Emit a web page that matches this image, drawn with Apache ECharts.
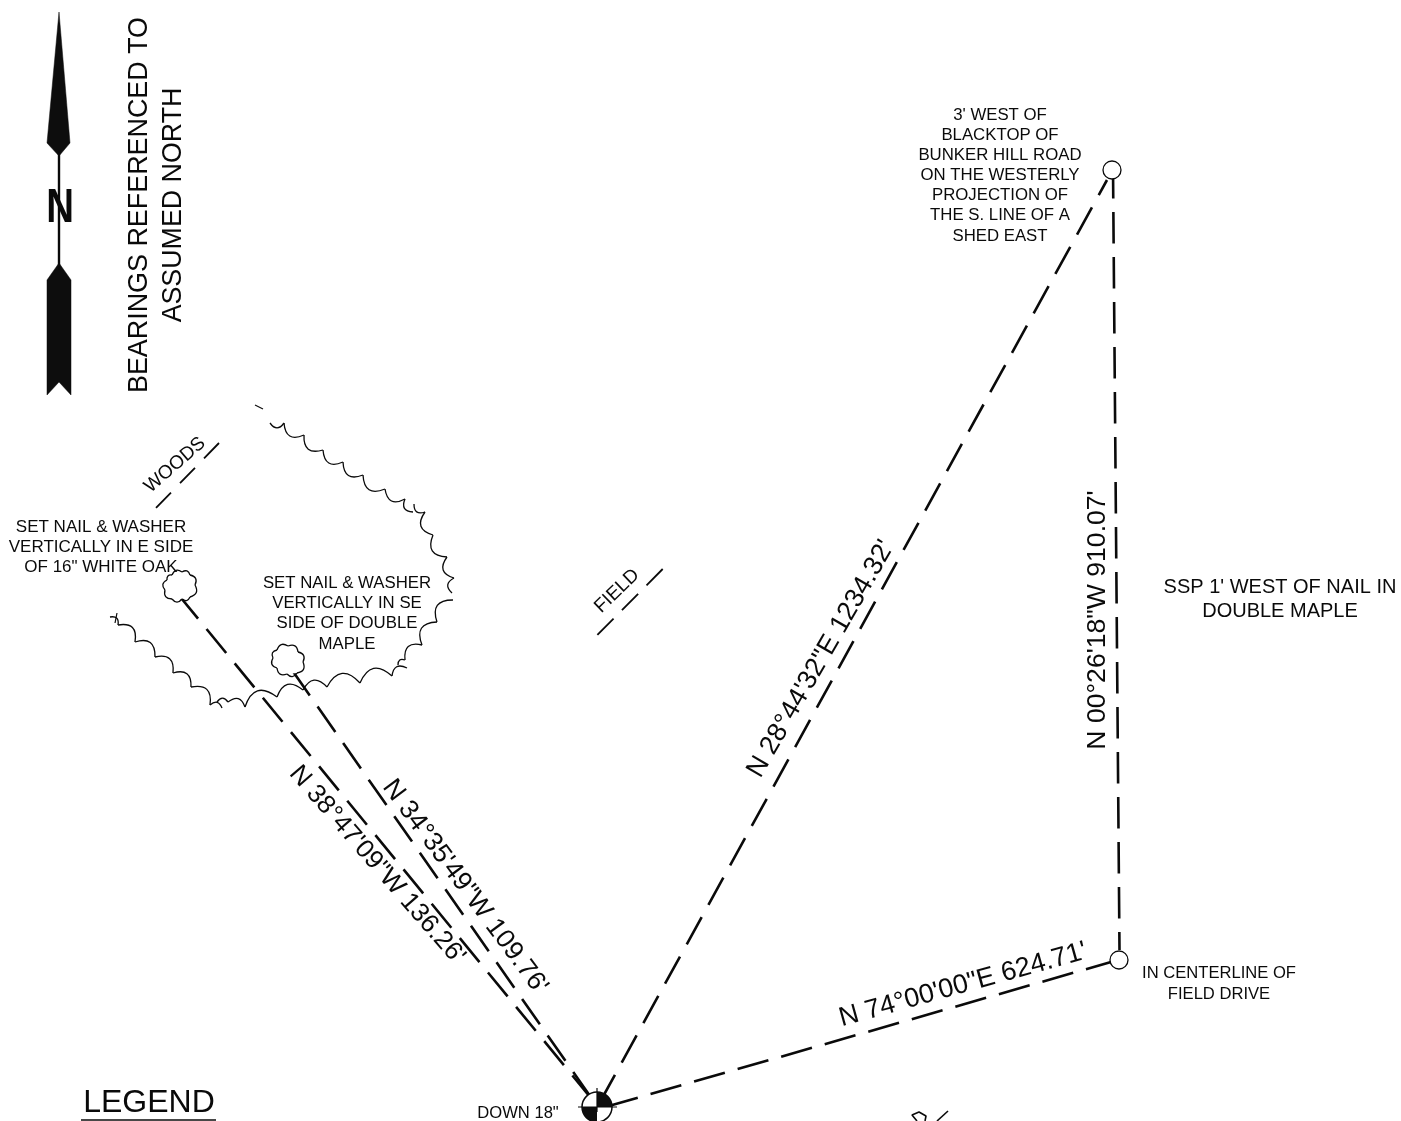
<!DOCTYPE html>
<html>
<head>
<meta charset="utf-8">
<style>html,body{margin:0;padding:0;background:#fff}#c{width:1401px;height:1121px}</style>
<script src="https://cdn.jsdelivr.net/npm/echarts@6/dist/echarts.min.js"></script>
</head>
<body>
<div id="c"></div>
<script>
// Traverse courses (start, end) in drawing units
const courseNE = [[600,1102],[1107,180]];
const courseN = [[1113,167],[1119.5,950]];
const courseE = [[607,1106.6],[1111,962]];
const courseOak = [[178.4,594.7],[590,1097]];
const courseMaple = [[292,670],[590,1096]];
const fieldHatch = [[662.7,569],[597.3,635]];
const woodsHatch = [[219,443],[156,508]];
const legendRule = [[81,1120],[216,1120]];
const needleShaft = [[59,150],[59,270]];
const crossH = [[578,1107],[617,1107]];
const crossV = [[597,1088],[597,1112]];
const fragA = [[948,1111],[937,1121]];
const fragB = [[925,1121],[926,1116],[919,1112],[912,1115],[917,1121]];
const woodsTick = [[117,613],[115,623]];
const woodsStub = [[255,405],[263,409]];

// Tree line cusps
const woodsNorth = [[270,423],[284,423],[304,435],[323,450],[343,462],[363,475],[385,489],[405,499],[413,512]];
const woodsEast = [[414,504],[425,512],[433,535],[447,557],[454,578],[452,593]];
const woodsSouthEast = [[453,600],[437,622],[422,645],[405,660],[398,665]];
const woodsSouth = [[407,668],[392,676],[360,683],[327,687],[303,690],[277,697],[245,707],[228,702],[217,702]];
const woodsWest = [[222,708],[210,705],[191,687],[173,673],[155,657],[135,642],[118,625],[110,617]];
const oakCrown = [[172,575],[182,572],[190,575],[195,585],[190,597],[182,599],[172,599],[165,590],[167,580],[172,575]];
const mapleCrown = [[277,650],[288,646],[298,652],[303,662],[297,673],[287,674],[277,668],[273,658],[277,650]];

// North arrow
const needleHead = [[59,12],[70,143],[59,156],[47,143]];
const needleTail = [[59,263],[71,280],[71,395],[59,382],[47,395],[47,280]];

// Monuments
const pins = [[1112,170,9],[1119,960,9]];
const corner = [597,1107,15];

// Labels
const labelText = [
 "BEARINGS REFERENCED TO","ASSUMED NORTH","WOODS","FIELD",
 "3' WEST OF","BLACKTOP OF","BUNKER HILL ROAD","ON THE WESTERLY","PROJECTION OF","THE S. LINE OF A","SHED EAST",
 "SET NAIL & WASHER","VERTICALLY IN E SIDE",'OF 16" WHITE OAK',
 "SET NAIL & WASHER","VERTICALLY IN SE","SIDE OF DOUBLE","MAPLE",
 "SSP 1' WEST OF NAIL IN","DOUBLE MAPLE","IN CENTERLINE OF","FIELD DRIVE",
 'N 38°47\'09"W 136.26\'','N 34°35\'49"W 109.76\'','N 28°44\'32"E 1234.32\'','N 00°26\'18"W 910.07\'','N 74°00\'00"E 624.71\'',
 "LEGEND",'DOWN 18"'
];
const labelX = [140,173.5,175,617, 1000,1000,1000,1000,1000,1000,1000, 101,101,101, 347,347,347,347, 1280,1280,1219,1219, 377,465,821,1097.5,963, 149,518];
const labelY = [205,205,465,591, 115,135,155,175,195,215,236, 527,547,567, 583,603,623,644, 587,611,973,994, 865,887,659,620,985, 1103,1113];
const labelAngle = [90,90,41,44, 0,0,0,0,0,0,0, 0,0,0, 0,0,0,0, 0,0,0,0, -49,-53.5,60,90,15.5, 0,0];
const labelSize = [26.9,26.8,19,19, 16.8,16.8,16.8,16.8,16.8,16.8,16.8, 17,17,17, 16.8,16.8,16.8,16.8, 20,20,16.6,16.6, 26,26.6,26.8,26.6,27, 32,16.6];

const INK = '#0a0a0a';
const FONT = '"Liberation Sans", Arial, sans-serif';

function polyline(points, width, dash){
  return {type:'line', data:points, symbol:'none', silent:true, animation:false, z:2,
    lineStyle:{color:INK, width:width, type: dash ? dash : 'solid', cap:'butt'}};
}
function scallopSeries(lists, side){
  const segs = [];
  lists.forEach(l=>{ for(let i=0;i<l.length-1;i++) segs.push([l[i][0],l[i][1],l[i+1][0],l[i+1][1]]); });
  return {type:'custom', data:segs, silent:true, animation:false, z:3, clip:false,
    encode:{x:[0,2],y:[1,3]},
    renderItem(p,api){
      const a=api.coord([api.value(0),api.value(1)]), b=api.coord([api.value(2),api.value(3)]);
      const dx=b[0]-a[0], dy=b[1]-a[1];
      const mx=(a[0]+b[0])/2, my=(a[1]+b[1])/2;
      return {type:'bezierCurve', shape:{x1:a[0],y1:a[1],x2:b[0],y2:b[1],
        cpx1:mx-dy*0.7*side, cpy1:my+dx*0.7*side},
        style:{stroke:INK,lineWidth:1.3,fill:null}};
    }};
}
function polygonSeries(polys){
  return {type:'custom', data:polys.map((_,i)=>[i]), silent:true, animation:false, z:2,
    renderItem(p,api){
      const pts=polys[p.dataIndex].map(q=>api.coord(q));
      return {type:'polygon', shape:{points:pts}, style:{fill:'#0d0d0d',stroke:'#0d0d0d',lineWidth:0.5}};
    }};
}
const treeFill = [oakCrown, mapleCrown];

const series = [
  polyline(courseNE,2.6,[31,14]),
  polyline(courseN,2.6,[31.5,13.5]),
  polyline(courseE,2.6,[32,13.3]),
  polyline(courseOak,2.6,[31,13.4]),
  polyline(courseMaple,2.6,[31,13.6]),
  polyline(fieldHatch,1.8,[23,11.9]),
  polyline(woodsHatch,1.8,[21.5,13]),
  polyline(legendRule,1.6),
  polyline(needleShaft,2.4),
  polyline(fragA,1.6),
  polyline(fragB,1.6),
  polyline(woodsTick,1.2),
  polyline(woodsStub,1.2),
  scallopSeries([woodsNorth,woodsEast,woodsSouthEast,woodsSouth,woodsWest],1),
  {type:'custom', data:treeFill.map((_,i)=>[i]), silent:true, animation:false, z:2.5,
   renderItem(p,api){
     const pts=treeFill[p.dataIndex].map(q=>api.coord(q));
     return {type:'polygon', shape:{points:pts}, style:{fill:'#fff'}};
   }},
  scallopSeries([oakCrown,mapleCrown],-0.9),
  polygonSeries([needleHead,needleTail]),
  {type:'custom', data:pins, silent:true, animation:false, z:4, clip:false,
   renderItem(p,api){
     const c=api.coord([api.value(0),api.value(1)]);
     return {type:'circle', shape:{cx:c[0],cy:c[1],r:api.value(2)}, style:{fill:'#fff',stroke:INK,lineWidth:1.3}};
   }},
  {type:'custom', data:[corner], silent:true, animation:false, z:4, clip:false,
   renderItem(p,api){
     const c=api.coord([api.value(0),api.value(1)]), r=api.value(2);
     return {type:'group', children:[
       {type:'circle', shape:{cx:c[0],cy:c[1],r:r}, style:{fill:'#fff',stroke:INK,lineWidth:1.5}},
       {type:'sector', shape:{cx:c[0],cy:c[1],r:r,r0:0,startAngle:-Math.PI/2,endAngle:0}, style:{fill:'#0d0d0d'}},
       {type:'sector', shape:{cx:c[0],cy:c[1],r:r,r0:0,startAngle:Math.PI/2,endAngle:Math.PI}, style:{fill:'#0d0d0d'}}
     ]};
   }},
  Object.assign(polyline(crossH,1.2),{z:5}),
  Object.assign(polyline(crossV,1.2),{z:5}),
  {type:'custom', data:labelText.map((t,i)=>[labelX[i],labelY[i],i]), silent:true, animation:false, z:6, clip:false,
   renderItem(p,api){
     const i=p.dataIndex, c=api.coord([labelX[i],labelY[i]]);
     return {type:'text', x:c[0], y:c[1], rotation:labelAngle[i]*Math.PI/180,
       style:{text:labelText[i], fontSize:labelSize[i], fontFamily:FONT, fill:INK, align:'center', verticalAlign:'middle'}};
   }},
  {type:'custom', data:[[60,209]], silent:true, animation:false, z:6, clip:false,
   renderItem(p,api){
     const c=api.coord([api.value(0),api.value(1)]);
     return {type:'text', x:c[0], y:c[1], scaleX:0.8, scaleY:1,
       style:{text:'N', fontSize:48, fontWeight:'bold', fontFamily:FONT, fill:INK, align:'center', verticalAlign:'middle'}};
   }}
];

const chart = echarts.init(document.getElementById('c'), null, {renderer:'canvas'});
chart.setOption({
  animation:false,
  backgroundColor:'#fff',
  grid:{left:0,right:0,top:0,bottom:0},
  xAxis:{type:'value',min:0,max:1401,show:false},
  yAxis:{type:'value',min:0,max:1121,inverse:true,show:false},
  series:series
});
</script>
</body>
</html>
